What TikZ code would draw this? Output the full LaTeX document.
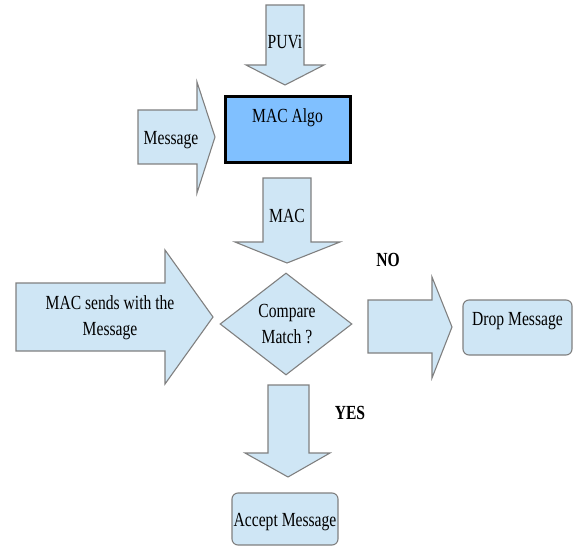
\documentclass[tikz,border=0pt]{standalone}
\usepackage{fontspec}
\setmainfont[FakeStretch=0.78]{Liberation Serif}
\usepackage{tikz}
\usetikzlibrary{shapes.geometric,positioning}

\definecolor{paleblue}{RGB}{207,230,245}
\definecolor{algoblue}{RGB}{128,192,255}
\definecolor{edgegray}{RGB}{128,128,128}

\begin{document}
\begin{tikzpicture}[x=1pt,y=-1pt,
	every node/.style={inner sep=0pt,font=\rmfamily\fontsize{20}{26}\selectfont},
	blockarrow/.style={draw=edgegray,fill=paleblue,line width=1.1pt,line join=miter},
	roundbox/.style={draw=edgegray,fill=paleblue,line width=1.1pt,rounded corners=6pt,rectangle},
	tag/.style={font=\rmfamily\fontsize{20}{26}\selectfont\bfseries}]
			\useasboundingbox (0,0) rectangle (573,548);
			% key input
			\draw [blockarrow] (266,5) -- (304,5) -- (304,65) -- (324,65) -- (285,85) -- (246,65) -- (266,65) -- cycle;
			\node (puvi) at (285,42) {PUVi};
			% algorithm box
			\node (macalgo) [rectangle,draw=black,fill=algoblue,line width=3pt,minimum width=125pt,minimum height=66pt] at (287.5,130) {};
			\node (algotext) at (287.5,118) {MAC Algo};
			% message input
			\draw [blockarrow] (138,110) -- (197,110) -- (197,82) -- (215,137) -- (197,193) -- (197,164) -- (138,164) -- cycle;
			\node (msg) at (171,140) {Message};
			% computed mac
			\draw [blockarrow] (263,178) -- (311,178) -- (311,242) -- (340,242) -- (287,263) -- (235,242) -- (263,242) -- cycle;
			\node (mac) at (287,216) {MAC};
			% received mac
			\draw [blockarrow] (16,283) -- (165,283) -- (165,250) -- (213,317) -- (165,384) -- (165,351) -- (16,351) -- cycle;
			\node (recv) [align=center] at (110,318) {MAC sends with the\\Message};
			% decision
			\node (compare) [diamond,draw=edgegray,fill=paleblue,line width=1.1pt,minimum width=132pt,minimum height=102pt,aspect=1.3] at (286,324) {};
			\node (cmptext) [align=center] at (287,324) {Compare\\Match ?};
			% no branch
			\draw [blockarrow] (368,300) -- (432,300) -- (432,277) -- (452,327) -- (432,378) -- (432,353) -- (368,353) -- cycle;
			\node (no) [tag] at (388,260) {NO};
			\node (drop) [roundbox,minimum width=109pt,minimum height=55pt] at (517.5,327.5) {};
			\node (droptext) at (517.5,321) {Drop Message};
			% yes branch
			\draw [blockarrow] (268,385) -- (309,385) -- (309,453) -- (330,453) -- (288,477) -- (245,453) -- (268,453) -- cycle;
			\node (yes) [tag] at (350,413) {YES};
			\node (accept) [roundbox,minimum width=106pt,minimum height=52pt] at (285,519) {};
			\node (accepttext) at (285,522) {Accept Message};
			\end{tikzpicture}
\end{document}
